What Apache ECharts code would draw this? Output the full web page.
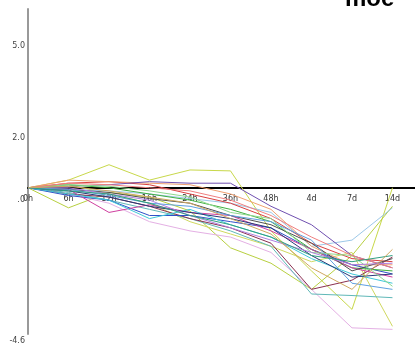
<!DOCTYPE html>
<html>
<head>
<meta charset="utf-8">
<script src="https://cdn.jsdelivr.net/npm/echarts@6/dist/echarts.min.js"></script>
<style>
  html, body { margin: 0; padding: 0; background: #fff; }
  #chart { width: 415px; height: 346px; }
</style>
</head>
<body>
<div id="chart"></div>
<script>
// Time points of the expression profiles
var timePoints = ['0h', '6h', '12h', '16h', '24h', '36h', '48h', '4d', '7d', '14d'];

// Y tick values shown on the axis
var yTicks = [5.0, 2.0, 0.0, -4.6];

// One profile per gene (log ratio at each time point)
var g01 = [0, 0.25, 0.75, 0.25, 0.58, 0.55, -1.4, -2.7, -3.95, 0.0];
var g02 = [0, -0.65, -0.15, -0.3, -0.75, -1.95, -2.45, -3.3, -2.2, -0.6];
var g03 = [0, 0.1, -0.2, -0.5, -1.1, -1.5, -1.9, -2.4, -2.1, -4.5];
var g04 = [0, -0.2, -0.5, -1.1, -1.4, -1.6, -2.1, -3.3, -4.55, -4.6];
var g05 = [0, -0.15, -0.4, -0.7, -1.0, -1.4, -1.9, -3.45, -3.5, -3.57];
var g06 = [0, -0.2, -0.3, -0.6, -1.0, -1.3, -1.8, -3.3, -3.0, -2.25];
var g07 = [0, -0.05, -0.1, -0.2, -0.35, -0.5, -0.8, -1.9, -1.7, -0.65];
var g08 = [0, 0.15, 0.2, 0.1, -0.2, -0.5, -1.0, -1.8, -2.3, -2.4];
var g09 = [0, 0.25, 0.2, 0.15, 0.1, -0.2, -0.7, -1.9, -2.5, -2.5];
var g10 = [0, -0.25, -0.4, -0.9, -0.9, -1.1, -1.3, -2.0, -2.5, -2.8];
var g11 = [0, 0.05, 0.1, 0.2, 0.15, 0.15, -0.6, -1.2, -2.2, -2.6];
var g12 = [0, 0.1, 0.0, -0.2, -0.4, -0.7, -1.1, -2.0, -2.6, -2.7];
var g13 = [0, -0.05, -0.8, -0.55, -0.8, -0.9, -1.4, -2.0, -2.6, -2.9];
var g14 = [0, -0.2, -0.4, -1.0, -0.7, -1.2, -1.6, -2.3, -2.8, -3.1];
var g15 = [0, -0.05, -0.15, -0.35, -0.5, -0.9, -1.2, -1.8, -2.7, -2.3];
var g16 = [0, -0.1, -0.3, -0.6, -0.8, -1.0, -1.3, -2.2, -2.9, -2.8];
var g17 = [0, 0.1, 0.05, -0.1, -0.3, -0.8, -1.0, -2.1, -2.2, -3.2];
var g18 = [0, 0.15, 0.1, 0.0, -0.1, -0.4, -0.9, -1.6, -2.2, -2.6];
var g19 = [0, 0.0, -0.2, -0.4, -0.9, -1.3, -1.7, -2.1, -2.5, -2.45];
var g20 = [0, -0.05, -0.25, -0.5, -0.6, -0.9, -1.1, -1.7, -3.1, -3.3];
var g21 = [0, -0.1, -0.2, -0.5, -0.9, -1.2, -1.6, -2.2, -2.4, -2.2];
var g22 = [0, 0.05, -0.1, -0.3, -0.5, -1.0, -1.5, -2.6, -3.3, -2.0];

var profiles = [g01, g02, g03, g04, g05, g06, g07, g08, g09, g10, g11,
                g12, g13, g14, g15, g16, g17, g18, g19, g20, g21, g22];

var colors = ['#c8d84a', '#b8d040', '#d0d860', '#e4b0e4', '#60b8b8', '#8a3050',
              '#9cc8e8', '#d84040', '#f0a070', '#3050c8', '#7050b0', '#40b040',
              '#d040a0', '#40c8d8', '#505050', '#283878', '#90d890', '#f08080',
              '#b080e0', '#60a0e0', '#30a080', '#d0a860'];

var series = profiles.map(function (vals, k) {
  return {
    type: 'line',
    data: vals.map(function (v, i) { return [i, v]; }),
    showSymbol: false,
    symbol: 'none',
    lineStyle: { width: 1, color: colors[k] },
    z: 2
  };
});

var chart = echarts.init(document.getElementById('chart'), null, { renderer: 'canvas' });
chart.setOption({
  animation: false,
  backgroundColor: '#fff',
  title: {
    text: 'moe',
    left: 345,
    top: -13,
    padding: 0,
    textStyle: { fontFamily: 'Liberation Sans', fontWeight: 'bold', fontSize: 24, color: '#000' }
  },
  grid: { left: 28, right: 0, top: 9, bottom: 12, containLabel: false },
  xAxis: {
    type: 'value',
    min: 0,
    max: 9.556,
    interval: 1,
    axisLine: { onZero: true, lineStyle: { color: '#000', width: 2 } },
    axisTick: { show: false },
    splitLine: { show: false },
    axisLabel: {
      margin: 5,
      fontFamily: 'DejaVu Sans',
      fontSize: 8,
      color: '#333',
      showMaxLabel: false,
      formatter: function (v) {
        return Number.isInteger(v) && timePoints[v] !== undefined ? timePoints[v] : '';
      }
    }
  },
  yAxis: {
    type: 'value',
    min: -4.75,
    max: 5.81,
    axisLine: { show: true, lineStyle: { color: '#999', width: 2 } },
    axisTick: { show: false },
    splitLine: { show: false },
    axisLabel: {
      customValues: yTicks,
      margin: 3,
      fontFamily: 'DejaVu Sans',
      fontSize: 8,
      color: '#444',
      verticalAlign: 'top',
      padding: [8, 0, 0, 0],
      formatter: function (v) {
        return Number(v).toFixed(1).replace(/^(-?)0\./, '$1.');
      }
    }
  },
  series: series
});

// Keep the time labels just under the zero line rather than at the grid bottom
var zeroY = chart.convertToPixel({ yAxisIndex: 0 }, 0);
var bottomY = chart.convertToPixel({ yAxisIndex: 0 }, -4.75);
chart.setOption({ xAxis: { axisLabel: { margin: 7 - (bottomY - zeroY) } } });
</script>
</body>
</html>
